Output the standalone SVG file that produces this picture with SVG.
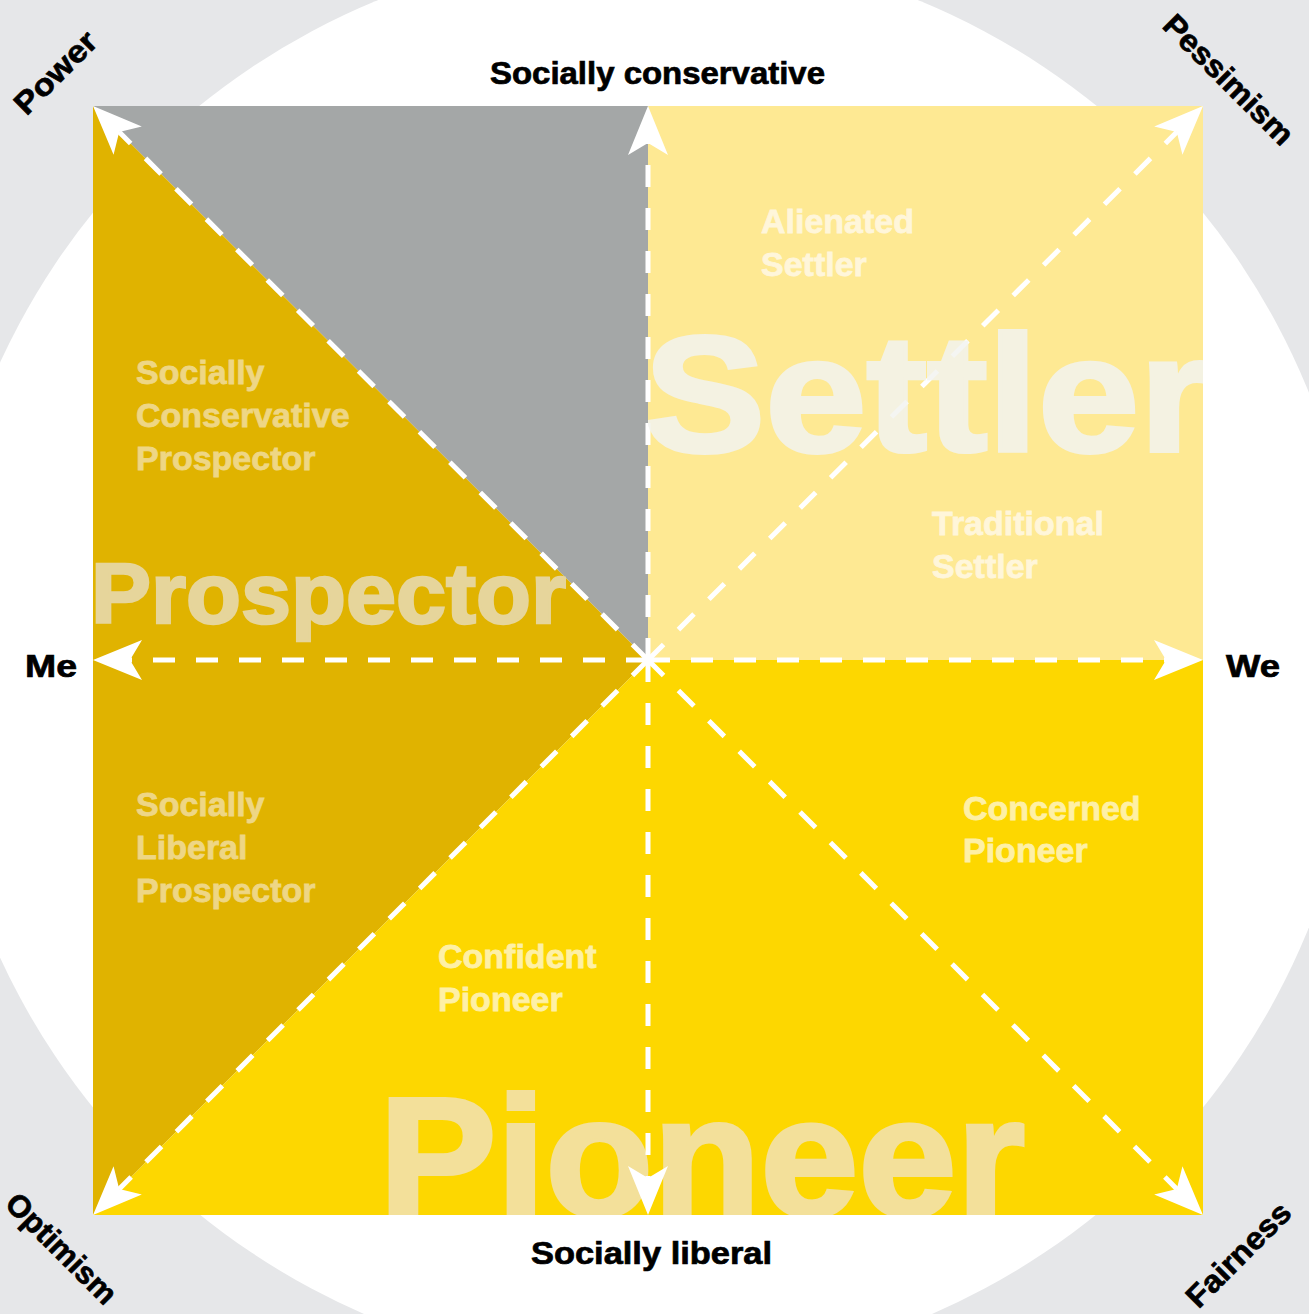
<svg xmlns="http://www.w3.org/2000/svg" width="1309" height="1314" viewBox="0 0 1309 1314">
<style>
.axis{font-family:"Liberation Sans",Arial,sans-serif;font-weight:bold;font-size:31px;fill:#000;stroke:#000;stroke-width:0.7}
.lbl{font-family:"Liberation Sans",Arial,sans-serif;font-weight:bold;font-size:34px;stroke-width:0.8}
.big{font-family:"Liberation Sans",Arial,sans-serif;font-weight:bold}
.dash{stroke:#fff;stroke-width:5;stroke-dasharray:22 21;fill:none;marker-end:url(#arr)}
</style>
<defs>
<marker id="arr" markerUnits="userSpaceOnUse" viewBox="0 -21 50 42" refX="12" refY="0" markerWidth="50" markerHeight="42" orient="auto" overflow="visible">
<path d="M0,-20 L49,0 L0,20 L12,0 Z" fill="#fff"/>
</marker>
<clipPath id="clipSq"><rect x="93" y="106" width="1110" height="1109"/></clipPath>
<clipPath id="clipSet"><rect x="648" y="106" width="555" height="554"/></clipPath>
</defs>
<rect x="0" y="0" width="1309" height="1314" fill="#e6e7e9"/>
<circle cx="648" cy="660" r="713" fill="#fff"/>

<g id="quadrant-gray"><polygon points="93,106 648,106 648,660" fill="#a4a7a7"/></g>
<g id="prospector">
<polygon points="93,106 648,660 93,1215" fill="#e0b300"/>
<text class="big" x="91" y="623" font-size="85" textLength="475" lengthAdjust="spacingAndGlyphs" fill="#e6d59b" stroke="#e6d59b" stroke-width="2.5">Prospector</text>
</g>
<g id="settler"><rect x="648" y="106" width="555" height="554" fill="#fee993"/></g>
<g id="pioneer">
<polygon points="93,1215 648,660 1203,660 1203,1215" fill="#fdd700"/>
<text class="big" x="379" y="1215" font-size="168" textLength="646" lengthAdjust="spacingAndGlyphs" fill="#f3e09a" stroke="#f3e09a" stroke-width="4" clip-path="url(#clipSq)">Pioneer</text>
</g>

<g id="sub-labels">
<g id="alienated-settler" class="lbl" fill="#fff6da" stroke="#fff6da"><text x="761" y="233">Alienated</text><text x="761" y="276">Settler</text></g>
<g id="traditional-settler" class="lbl" fill="#fff6da" stroke="#fff6da"><text x="932" y="535">Traditional</text><text x="932" y="578">Settler</text></g>
<g id="sc-prospector" class="lbl" fill="#eed685" stroke="#eed685"><text x="136" y="384">Socially</text><text x="136" y="427">Conservative</text><text x="136" y="470">Prospector</text></g>
<g id="sl-prospector" class="lbl" fill="#eed685" stroke="#eed685"><text x="136" y="816">Socially</text><text x="136" y="859">Liberal</text><text x="136" y="902">Prospector</text></g>
<g id="concerned-pioneer" class="lbl" fill="#fef0a6" stroke="#fef0a6"><text x="963" y="820">Concerned</text><text x="963" y="862">Pioneer</text></g>
<g id="confident-pioneer" class="lbl" fill="#fef0a6" stroke="#fef0a6"><text x="438" y="968">Confident</text><text x="438" y="1011">Pioneer</text></g>
</g>

<g id="connectors">
<line class="dash" x1="648" y1="660" x2="648" y2="143"/>
<line class="dash" x1="648" y1="660" x2="648" y2="1178"/>
<line class="dash" x1="648" y1="660" x2="130" y2="660"/>
<line class="dash" x1="648" y1="660" x2="1166" y2="660"/>
<line class="dash" x1="648" y1="660" x2="119.2" y2="132.1"/>
<line class="dash" x1="648" y1="660" x2="1176.8" y2="132.1"/>
<line class="dash" x1="648" y1="660" x2="119.2" y2="1188.9"/>
<line class="dash" x1="648" y1="660" x2="1176.8" y2="1188.9"/>
</g>

<g id="settler-title" opacity="0.85">
<text class="big" x="644" y="451" font-size="165" textLength="566" lengthAdjust="spacingAndGlyphs" fill="#f3f4f0" stroke="#f3f4f0" stroke-width="4" clip-path="url(#clipSet)">Settler</text>
</g>

<g id="axis-labels">
<text class="axis" x="490" y="84" textLength="335" lengthAdjust="spacingAndGlyphs">Socially conservative</text>
<text class="axis" x="531" y="1264" textLength="241" lengthAdjust="spacingAndGlyphs">Socially liberal</text>
<text class="axis" x="25" y="677" textLength="52" lengthAdjust="spacingAndGlyphs">Me</text>
<text class="axis" x="1226" y="677" textLength="54" lengthAdjust="spacingAndGlyphs">We</text>
<text class="axis" transform="translate(63,80) rotate(-45)" x="-51.5" y="0" textLength="103" lengthAdjust="spacingAndGlyphs">Power</text>
<text class="axis" transform="translate(1221,87) rotate(45)" x="-85" y="0" textLength="170" lengthAdjust="spacingAndGlyphs">Pessimism</text>
<text class="axis" transform="translate(54,1256) rotate(45)" x="-71.5" y="0" textLength="143" lengthAdjust="spacingAndGlyphs">Optimism</text>
<text class="axis" transform="translate(1246,1262) rotate(-45)" x="-67" y="0" textLength="134" lengthAdjust="spacingAndGlyphs">Fairness</text>
</g>
</svg>
